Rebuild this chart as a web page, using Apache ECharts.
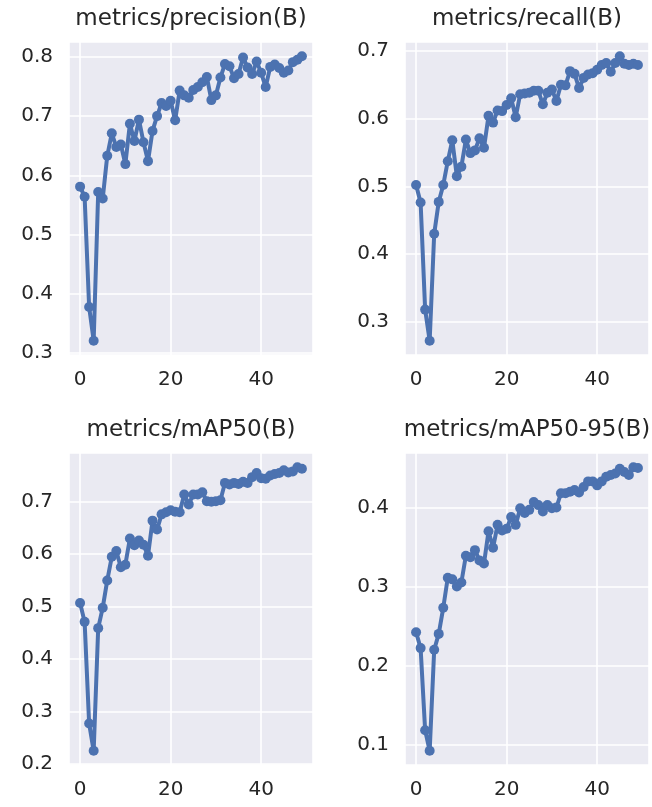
<!DOCTYPE html>
<html>
<head>
<meta charset="utf-8">
<title>metrics</title>
<script src="https://cdn.jsdelivr.net/npm/echarts@6/dist/echarts.min.js"></script>
<style>
  html, body { margin: 0; padding: 0; background: #ffffff; }
  #chart { width: 652px; height: 807px; }
</style>
</head>
<body>
<div id="chart"></div>
<script>
// epochs 0..49
var epochs = [];
for (var e = 0; e < 50; e++) epochs.push(e);

var titles = ['metrics/precision(B)', 'metrics/recall(B)', 'metrics/mAP50(B)', 'metrics/mAP50-95(B)'];

var precision = [0.581, 0.564, 0.378, 0.321, 0.572, 0.561, 0.633, 0.671, 0.648, 0.652,
  0.619, 0.687, 0.658, 0.694, 0.656, 0.624, 0.675, 0.700, 0.722, 0.717,
  0.726, 0.693, 0.743, 0.735, 0.731, 0.744, 0.749, 0.757, 0.766, 0.727,
  0.735, 0.765, 0.788, 0.784, 0.764, 0.771, 0.799, 0.782, 0.771, 0.792,
  0.773, 0.749, 0.783, 0.787, 0.781, 0.773, 0.777, 0.791, 0.795, 0.801];

var recall = [0.502, 0.476, 0.318, 0.272, 0.430, 0.477, 0.502, 0.537, 0.568, 0.515,
  0.529, 0.569, 0.549, 0.553, 0.571, 0.557, 0.604, 0.594, 0.612, 0.611,
  0.620, 0.630, 0.602, 0.636, 0.637, 0.638, 0.641, 0.641, 0.621, 0.638,
  0.643, 0.626, 0.650, 0.649, 0.670, 0.666, 0.645, 0.660, 0.665, 0.667,
  0.672, 0.679, 0.682, 0.669, 0.682, 0.692, 0.681, 0.679, 0.681, 0.679];

var map50 = [0.507, 0.471, 0.277, 0.225, 0.459, 0.498, 0.550, 0.595, 0.606, 0.575,
  0.580, 0.630, 0.617, 0.626, 0.618, 0.597, 0.664, 0.647, 0.676, 0.680,
  0.684, 0.681, 0.680, 0.714, 0.695, 0.714, 0.714, 0.718, 0.701, 0.700,
  0.701, 0.703, 0.736, 0.733, 0.736, 0.734, 0.738, 0.736, 0.747, 0.755,
  0.745, 0.744, 0.750, 0.753, 0.755, 0.760, 0.756, 0.758, 0.766, 0.763];

var map5095 = [0.242, 0.222, 0.118, 0.092, 0.220, 0.240, 0.273, 0.311, 0.309, 0.300,
  0.305, 0.339, 0.337, 0.346, 0.333, 0.329, 0.370, 0.349, 0.378, 0.371,
  0.373, 0.388, 0.378, 0.399, 0.393, 0.397, 0.407, 0.403, 0.395, 0.403,
  0.399, 0.400, 0.418, 0.418, 0.420, 0.422, 0.419, 0.426, 0.433, 0.433,
  0.428, 0.433, 0.439, 0.441, 0.443, 0.449, 0.445, 0.441, 0.451, 0.450];

var xTicks = [0, 20, 40];
var seriesData = [precision, recall, map50, map5095];

var chart = echarts.init(document.getElementById('chart'));

// panel boxes [left, top, width, height]
var boxes = [
  [69, 42, 244, 313],
  [405, 42, 244, 313],
  [69, 453, 244, 312],
  [405, 453, 244, 312]
];

var textColor = '#262626';
var lineColor = '#4C72B0';
var font = 'DejaVu Sans';

var grid = [], xAxis = [], yAxis = [], series = [], title = [];

boxes.forEach(function (b, i) {
  grid.push({
    left: b[0], top: b[1], width: b[2], height: b[3],
    show: true, backgroundColor: '#EAEAF2', borderWidth: 0
  });
  title.push({
    text: titles[i],
    left: b[0] + b[2] / 2,
    top: b[1] - 36,
    textAlign: 'center',
    padding: 0,
    textStyle: { fontFamily: font, fontSize: 23, fontWeight: 'normal', color: textColor, lineHeight: 26 }
  });
  xAxis.push({
    type: 'value', gridIndex: i,
    min: -2.45, max: 51.45, splitNumber: 3,
    axisLine: { show: false }, axisTick: { show: false },
    splitLine: { show: true, lineStyle: { color: '#ffffff', width: 1.6 } },
    axisLabel: {
      fontFamily: font, fontSize: 20, color: textColor, margin: 15,
      formatter: function (v) { return xTicks.indexOf(v) >= 0 ? String(v) : ''; }
    }
  });
  yAxis.push({
    type: 'value', gridIndex: i,
    min: function (v) { return v.min - 0.05 * (v.max - v.min); },
    max: function (v) { return v.max + 0.05 * (v.max - v.min); },
    splitNumber: 5,
    axisLine: { show: false }, axisTick: { show: false },
    splitLine: { show: true, lineStyle: { color: '#ffffff', width: 1.6 } },
    axisLabel: {
      fontFamily: font, fontSize: 20, color: textColor, margin: 16,
      formatter: function (v) {
        var r = Math.round(v * 10) / 10;
        return Math.abs(r - v) < 1e-6 ? r.toFixed(1) : '';
      }
    }
  });
  series.push({
    type: 'line', xAxisIndex: i, yAxisIndex: i,
    data: epochs.map(function (x, k) { return [x, seriesData[i][k]]; }),
    symbol: 'circle', symbolSize: 10, showSymbol: true,
    lineStyle: { color: lineColor, width: 4 },
    itemStyle: { color: lineColor },
    clip: false
  });
});

chart.setOption({
  animation: false,
  backgroundColor: '#ffffff',
  title: title,
  grid: grid,
  xAxis: xAxis,
  yAxis: yAxis,
  series: series
});
</script>
</body>
</html>
